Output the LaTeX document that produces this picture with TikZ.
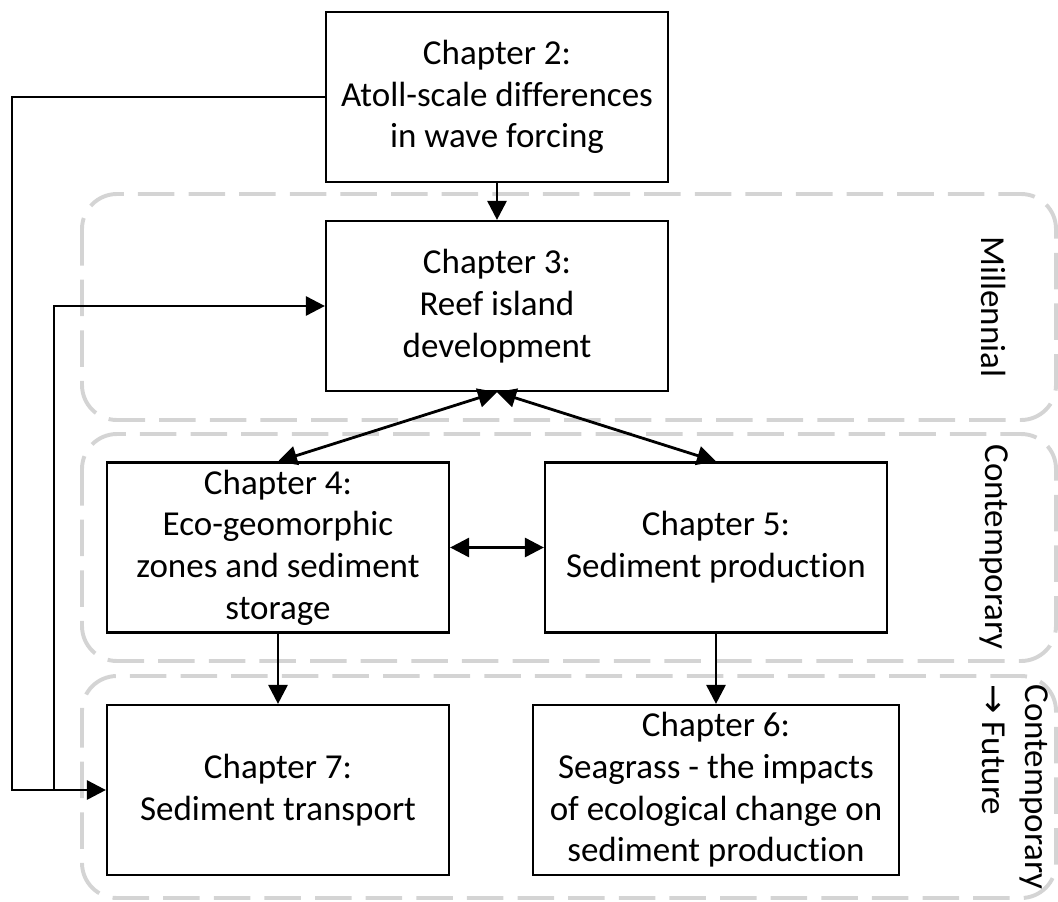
\documentclass[tikz,border=0pt]{standalone}
\usepackage{fontspec}
\setmainfont[Ligatures=NoCommon]{Carlito}
\newfontfamily\symfont{DejaVu Sans}
\usepackage{tikz}
\usetikzlibrary{arrows.meta}
\definecolor{zonegray}{RGB}{212,212,212}

\begin{document}
\begin{tikzpicture}[
  x=0.025cm, y=-0.025cm,
  chap/.style={draw=black, line width=1.5pt, align=center, inner sep=0pt,
    minimum width=8.55cm, minimum height=4.25cm, font=\fontsize{24.9}{29.7}\selectfont},
  wide/.style={chap, minimum width=9.15cm},
  zone/.style={draw=zonegray, line width=2.8pt, dash pattern=on 26pt off 10pt, rounded corners=0.875cm},
  zlbl/.style={rotate=-90, align=left, font=\fontsize{24.9}{30.5}\selectfont},
  arr/.style={-{Triangle[length=13.5pt, width=13.5pt]}, line width=2pt},
  dbl/.style={{Triangle[length=13.5pt, width=13.5pt]}-{Triangle[length=13.5pt, width=13.5pt]}, line width=2pt}
]

\useasboundingbox (0,0) rectangle (1058,901);

% Time-scale zones
\foreach \ztop/\zbot in {194/420, 434/661, 676/898}{
  \draw[zone] (82,\ztop) rectangle (1056,\zbot);
}

% Chapters
\node[chap] (ch2) at (497,97) {Chapter 2:\\Atoll-scale differences\\in wave forcing};
\node[chap] (ch3) at (497,306) {Chapter 3:\\Reef island\\development};
\node[chap] (ch4) at (278,547.5) {Chapter 4:\\Eco-geomorphic\\zones and sediment\\storage};
\node[chap] (ch5) at (716,547.5) {Chapter 5:\\Sediment production};
\node[chap] (ch7) at (278,790) {Chapter 7:\\Sediment transport};
\node[wide] (ch6) at (716,790) {Chapter 6:\\Seagrass - the impacts\\of ecological change on\\sediment production};

% Zone labels
\node[zlbl] (mil) at (994,307) {Millennial};
\node[zlbl] (con) at (994,547) {Contemporary};
\node[zlbl] (fut) at (1015,787) {Contemporary\\{\symfont →} Future};

% Links
\coordinate (lft) at (12,97);
\coordinate (jn) at (54,790);
\draw[arr] (ch2.south) -- (ch3.north);
\draw[arr] (ch2.west) -- (lft) |- (ch7.west);
\draw[arr] (jn) |- (ch3.west);
\draw[dbl] (ch3.south) -- (ch4.north);
\draw[dbl] (ch3.south) -- (ch5.north);
\draw[dbl] (ch4.east) -- (ch5.west);
\draw[arr] (ch4.south) -- (ch7.north);
\draw[arr] (ch5.south) -- (ch6.north);

\end{tikzpicture}
\end{document}
